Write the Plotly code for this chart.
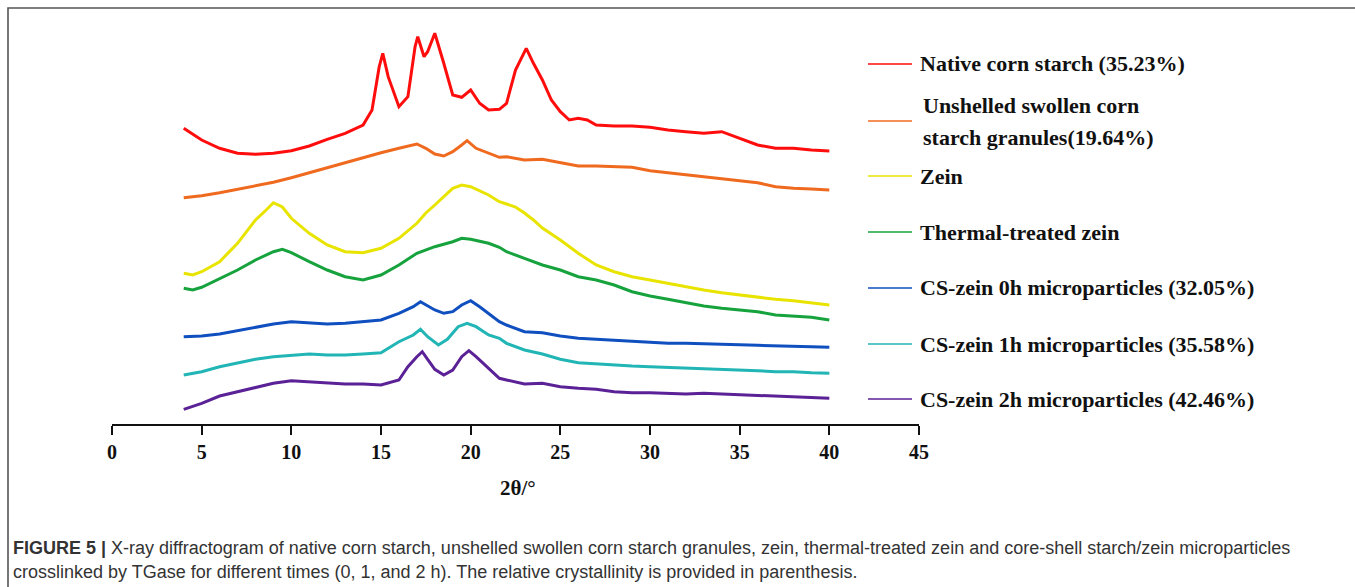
import plotly.graph_objects as go

# ---------------- data (2θ in degrees, intensity in arbitrary offset units) ----------------
names = [
    "Native corn starch (35.23%)",
    "Unshelled swollen corn starch granules(19.64%)",
    "Zein",
    "Thermal-treated zein",
    "CS-zein 0h microparticles (32.05%)",
    "CS-zein 1h microparticles (35.58%)",
    "CS-zein 2h microparticles (42.46%)",
]
colors = ["#ff0d0d", "#ef6a1f", "#e8e400", "#16a23c", "#0f4fbf", "#22b5b5", "#5b2196"]

x_native = [4, 5, 6, 7, 8, 9, 10, 11, 12, 13, 14, 14.5, 14.9, 15.1, 15.4, 16, 16.5, 16.9, 17.05,
            17.4, 17.6, 18.0, 18.5, 19, 19.5, 20, 20.5, 21, 21.6, 22, 22.5, 23.1, 23.5, 24, 24.5,
            25, 25.5, 26, 26.5, 27, 28, 29, 30, 31, 32, 33, 34, 35, 36, 37, 38, 39, 40]
y_native = [295.7, 284, 275.7, 270.7, 269.7, 270.7, 273.3, 278, 284.7, 290.7, 299, 314, 357.3,
            370.7, 347.3, 317.3, 327.3, 377.3, 387.3, 367.3, 372.3, 390.7, 360.7, 329, 326.7, 334,
            320.7, 314, 314.7, 320.7, 354, 375.7, 360.7, 344, 324, 312.3, 304, 305.7, 304, 299,
            298, 298, 296.7, 294, 292.3, 290.7, 292.3, 285.7, 279, 275.7, 275.7, 274, 273]

x_swollen = [4, 5, 6, 7, 8, 9, 10, 11, 12, 13, 14, 15, 16, 17, 17.5, 18, 18.5, 19, 19.5, 19.8,
             20.3, 21, 21.6, 22, 23, 24, 25, 26, 27, 28, 29, 30, 31, 32, 33, 34, 35, 36, 37, 38,
             39, 40]
y_swollen = [226.3, 228.3, 231.3, 234.7, 238, 241.7, 246.3, 251.3, 256.3, 261.3, 266.7, 271.3,
             275.7, 280, 275.7, 270, 268, 272.3, 279, 283.3, 275.7, 270.7, 266.7, 267.3, 264,
             264.7, 261.3, 258, 258, 257.3, 256.7, 253.3, 251.3, 250, 248, 245.7, 244, 241.3,
             237.3, 235.7, 235, 234]

x_zein = [4, 4.5, 5, 6, 7, 8, 8.5, 9, 9.5, 10, 11, 12, 13, 14, 15, 16, 17, 17.5, 18, 19, 19.5,
          20, 21, 21.6, 22, 22.5, 23, 23.5, 24, 25, 26, 27, 28, 29, 30, 31, 32, 33, 34, 35, 36,
          37, 38, 39, 40]
y_zein = [150.7, 149, 152.3, 162.3, 180.7, 204, 212.3, 221.3, 217, 205.7, 190.7, 179, 172.3,
          171.3, 175.7, 185.7, 200.7, 211, 219, 235.7, 239, 237.3, 229, 222.3, 220, 217, 211,
          204, 196, 184, 170.7, 159, 152.3, 147.3, 144, 140.7, 136.7, 134, 131.3, 129, 126.7,
          124.7, 123.3, 121.3, 119]

x_thermal = [4, 4.5, 5, 6, 7, 8, 9, 9.5, 10, 11, 12, 13, 14, 15, 16, 17, 18, 19, 19.5, 20, 21,
             21.6, 22, 23, 24, 25, 26, 27, 28, 29, 30, 31, 32, 33, 34, 35, 36, 37, 38, 39, 40]
y_thermal = [135.7, 134, 136.7, 145.7, 154, 164, 172.3, 174.7, 171.3, 162.3, 154, 147.3, 144,
             149, 159, 170.7, 177.3, 182.3, 185.7, 184.7, 180.7, 176.7, 172.3, 165.7, 159, 154,
             147.3, 144, 139, 132.3, 128, 124.7, 121.3, 118, 115.7, 114, 112.3, 109, 108, 106.7,
             104]

x_cs0 = [4, 5, 6, 7, 8, 9, 10, 11, 12, 13, 14, 15, 16, 16.8, 17.2, 17.5, 18, 18.5, 19, 19.5,
         20, 20.5, 21, 21.6, 22, 23, 24, 25, 26, 27, 28, 29, 30, 31, 32, 33, 34, 35, 36, 37, 38,
         39, 40]
y_cs0 = [87.3, 88, 90, 93.3, 96.7, 100, 102.3, 101.3, 100, 100.7, 102.3, 104, 110.7, 117.3,
         122.3, 119, 114, 110.7, 112.3, 119, 123.3, 117.3, 110.7, 102.3, 99, 92.3, 91.3, 88,
         85.7, 84.7, 84, 82.3, 81.3, 80.7, 80.7, 80, 80, 79.3, 78.7, 78, 78, 77.3, 76.7]

x_cs1 = [4, 5, 6, 7, 8, 9, 10, 11, 12, 13, 14, 15, 15.5, 16, 16.8, 17.2, 17.6, 18.2, 18.7, 19.3,
         19.8, 20.3, 21, 21.6, 22, 23, 24, 25, 26, 27, 28, 29, 30, 31, 32, 33, 34, 35, 36, 37,
         38, 39, 40]
y_cs1 = [49, 52.3, 57.3, 61.3, 64.7, 67.3, 69, 70, 69, 69, 70, 71.3, 76.7, 82.3, 89, 94.7, 87.3,
         79, 84.7, 97.3, 100.7, 97.3, 89, 85.7, 80.7, 74, 70, 64.7, 61.3, 60, 59, 58, 57.3, 56.7,
         55.7, 55.7, 54.7, 54, 53.3, 52.3, 52.3, 51.3, 50.7]

x_cs2 = [4, 5, 6, 7, 8, 9, 10, 11, 12, 13, 14, 15, 16, 16.5, 17, 17.3, 17.6, 18, 18.5, 19, 19.5,
         19.9, 20.3, 21, 21.6, 22, 23, 24, 25, 26, 27, 28, 29, 30, 31, 32, 33, 34, 35, 36, 37,
         38, 39, 40]
y_cs2 = [14.7, 20.7, 28, 32.3, 36.3, 40.7, 43.3, 42.3, 40.7, 40, 40, 39, 44, 57.3, 67.3, 72.3,
         64.7, 54.7, 49, 54, 67.3, 73.3, 67.3, 55.7, 45.7, 44, 40, 40.7, 37.3, 35.7, 34.7, 32.3,
         31.3, 31.3, 30.7, 30, 30.7, 30, 29, 28, 27.3, 26.7, 26.3, 25.7]

tick_vals = [0, 5, 10, 15, 20, 25, 30, 35, 40, 45]
tick_text = ["0", "5", "10", "15", "20", "25", "30", "35", "40", "45"]

xs = [x_native, x_swollen, x_zein, x_thermal, x_cs0, x_cs1, x_cs2]
ys = [y_native, y_swollen, y_zein, y_thermal, y_cs0, y_cs1, y_cs2]

# ---------------- layout geometry (pixels) ----------------
W, H = 1355, 587
L, R, T, B = 112, 919, 24, 424          # plot area
PW, PH = R - L, B - T


def px(xp):
    return (xp - L) / PW


def py(yp):
    return (B - yp) / PH


fig = go.Figure()
for n, c, xv, yv in zip(names, colors, xs, ys):
    fig.add_trace(go.Scatter(x=xv, y=yv, mode="lines", name=n,
                             line=dict(color=c, width=3), showlegend=False))

serif_b = dict(family="Liberation Serif", size=22, color="#111111")

annotations = []
shapes = []

# custom legend
leg_y = [64, 121, 176, 232, 288, 344, 399]
for i, (n, c) in enumerate(zip(names, colors)):
    shapes.append(dict(type="line", xref="paper", yref="paper",
                       x0=px(868), x1=px(912), y0=py(leg_y[i]), y1=py(leg_y[i]),
                       line=dict(color=c, width=1.6)))
    if i == 1:
        parts = ["Unshelled swollen corn", "starch granules(19.64%)"]
        for j, (t, yy) in enumerate(zip(parts, [106, 137])):
            annotations.append(dict(text="<b>%s</b>" % t, xref="paper", yref="paper",
                                    x=px(921), y=py(yy), xanchor="left", yanchor="middle",
                                    showarrow=False, font=serif_b))
    else:
        annotations.append(dict(text="<b>%s</b>" % n, xref="paper", yref="paper",
                                x=px(918), y=py(leg_y[i]), xanchor="left", yanchor="middle",
                                showarrow=False, font=serif_b))

# axis title
annotations.append(dict(text="<b>2θ/°</b>", xref="paper", yref="paper", x=px(518), y=py(488),
                        xanchor="center", yanchor="middle", showarrow=False,
                        font=dict(family="Liberation Serif", size=21, color="#111111")))

# caption
cap_font = dict(family="Liberation Sans, Arial", size=18, color="#333333")
annotations.append(dict(
    text="<b>FIGURE 5 |</b> X-ray diffractogram of native corn starch, unshelled swollen corn starch "
         "granules, zein, thermal-treated zein and core-shell starch/zein microparticles",
    xref="paper", yref="paper", x=px(11), y=py(548), xanchor="left", yanchor="middle",
    showarrow=False, font=cap_font))
annotations.append(dict(
    text="crosslinked by TGase for different times (0, 1, and 2 h). The relative crystallinity is "
         "provided in parenthesis.",
    xref="paper", yref="paper", x=px(11), y=py(572), xanchor="left", yanchor="middle",
    showarrow=False, font=cap_font))

# outer frame
shapes.append(dict(type="rect", xref="paper", yref="paper", x0=px(8), x1=px(1400),
                   y0=py(640), y1=py(8), line=dict(color="#555555", width=1.6)))

fig.update_layout(
    width=W, height=H,
    margin=dict(l=L, r=W - R, t=T, b=H - B, pad=0),
    paper_bgcolor="white", plot_bgcolor="white",
    xaxis=dict(range=[0, 45], tickvals=tick_vals, ticktext=tick_text,
               showgrid=False, zeroline=False, showline=True, linecolor="#111111",
               linewidth=2, ticks="outside", ticklen=9, tickwidth=2, tickcolor="#111111",
               tickfont=dict(family="Liberation Serif", size=20, color="#111111",
                             weight="bold")),
    yaxis=dict(range=[0, 400], visible=False, showgrid=False, zeroline=False),
    shapes=shapes, annotations=annotations,
)

fig.write_html("out.html")
